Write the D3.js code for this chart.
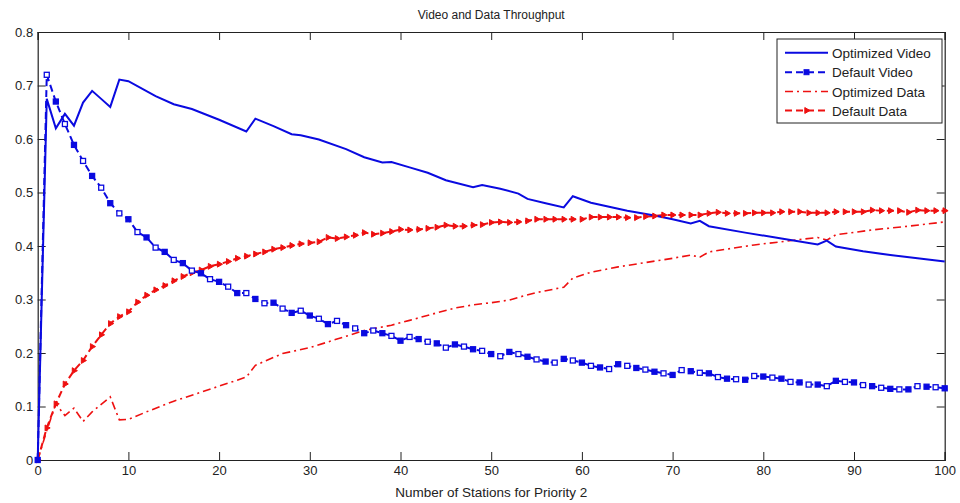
<!DOCTYPE html>
<html>
<head>
<meta charset="utf-8">
<script src="https://cdn.jsdelivr.net/npm/d3@7"></script>
<style>
  html, body { margin: 0; padding: 0; background: #fff; }
  svg { display: block; font-family: "Liberation Sans", Arial, sans-serif; }
</style>
</head>
<body>
<svg id="chart" width="960" height="503"></svg>
<script>
// ---------------- data ----------------
const stations = d3.range(0, 101); // x categories 0..100

const defaultVideo = [
  0, 0.72, 0.67, 0.628, 0.589, 0.559, 0.531, 0.509, 0.48, 0.461,
  0.45, 0.426, 0.416, 0.397, 0.389, 0.374, 0.368, 0.354, 0.349, 0.338,
  0.333, 0.324, 0.312, 0.312, 0.301, 0.293, 0.294, 0.283, 0.275, 0.279,
  0.27, 0.264, 0.254, 0.26, 0.252, 0.246, 0.237, 0.242, 0.237, 0.232,
  0.223, 0.23, 0.226, 0.221, 0.218, 0.21, 0.216, 0.212, 0.207, 0.204,
  0.198, 0.194, 0.202, 0.198, 0.193, 0.188, 0.184, 0.182, 0.189, 0.186,
  0.182, 0.176, 0.173, 0.17, 0.179, 0.176, 0.172, 0.169, 0.165, 0.162,
  0.159, 0.168, 0.166, 0.163, 0.162, 0.155, 0.152, 0.151, 0.15, 0.157,
  0.156, 0.154, 0.152, 0.146, 0.145, 0.141, 0.141, 0.138, 0.148, 0.146,
  0.145, 0.14, 0.138, 0.135, 0.133, 0.132, 0.132, 0.138, 0.137, 0.136,
  0.134
];

const defaultData = [
  0, 0.06, 0.105, 0.142, 0.167, 0.186, 0.212, 0.234, 0.255, 0.268,
  0.277, 0.295, 0.308, 0.318, 0.326, 0.335, 0.343, 0.35, 0.355, 0.362,
  0.366, 0.371, 0.377, 0.381, 0.385, 0.389, 0.394, 0.397, 0.401, 0.404,
  0.406, 0.408, 0.416, 0.414, 0.417, 0.42, 0.425, 0.422, 0.424, 0.427,
  0.431, 0.43, 0.431, 0.433, 0.435, 0.439, 0.437, 0.437, 0.439, 0.44,
  0.444, 0.445, 0.444, 0.445, 0.447, 0.45, 0.45, 0.45, 0.45, 0.45,
  0.45, 0.454, 0.454, 0.454, 0.454, 0.453, 0.453, 0.455, 0.456, 0.458,
  0.458, 0.458, 0.458, 0.458, 0.461, 0.463, 0.461, 0.461, 0.461, 0.462,
  0.462, 0.462, 0.464, 0.464, 0.464, 0.462, 0.462, 0.462, 0.464, 0.464,
  0.464, 0.464, 0.467, 0.466, 0.466, 0.466, 0.463, 0.467, 0.466, 0.466,
  0.466
];

const optVideoX = [0, 1, 2, 3, 4, 5, 6, 7, 8, 9, 10, 13, 15, 17, 20, 23, 24, 26, 28, 29, 31, 34, 36, 38, 39, 41, 43, 45, 48, 49, 51, 53, 54, 56, 58, 59, 61, 65, 68, 70, 72, 73, 74, 78, 82, 86, 87, 88, 91, 94, 97, 100];
const optVideo  = [0, 0.675, 0.62, 0.647, 0.625, 0.668, 0.69, 0.675, 0.66, 0.711, 0.708, 0.68, 0.665, 0.656, 0.636, 0.614, 0.638, 0.624, 0.609, 0.607, 0.599, 0.581, 0.566, 0.556, 0.557, 0.547, 0.537, 0.523, 0.51, 0.514, 0.507, 0.498, 0.488, 0.48, 0.472, 0.493, 0.481, 0.466, 0.457, 0.45, 0.442, 0.447, 0.437, 0.425, 0.414, 0.403, 0.41, 0.399, 0.39, 0.383, 0.377, 0.371];

const optDataX = [0, 1, 2, 3, 4, 5, 6, 7, 8, 9, 10, 12, 15, 17, 20, 23, 24, 27, 30, 33, 36, 39, 41, 44, 46, 48, 50, 52, 53, 55, 58, 59, 61, 64, 67, 70, 72, 73, 74, 79, 84, 86, 87, 88, 92, 96, 100];
const optData  = [0, 0.055, 0.105, 0.083, 0.097, 0.072, 0.09, 0.104, 0.118, 0.075, 0.076, 0.09, 0.11, 0.121, 0.138, 0.155, 0.177, 0.199, 0.21, 0.226, 0.242, 0.252, 0.261, 0.275, 0.284, 0.29, 0.294, 0.299, 0.304, 0.313, 0.323, 0.34, 0.351, 0.361, 0.369, 0.377, 0.383, 0.379, 0.389, 0.402, 0.412, 0.416, 0.411, 0.421, 0.43, 0.437, 0.445];

const xTicks = [0, 10, 20, 30, 40, 50, 60, 70, 80, 90, 100];
const yTicks = [0, 0.1, 0.2, 0.3, 0.4, 0.5, 0.6, 0.7, 0.8];
const xTickLabels = ["0", "10", "20", "30", "40", "50", "60", "70", "80", "90", "100"];
const yTickLabels = ["0", "0.1", "0.2", "0.3", "0.4", "0.5", "0.6", "0.7", "0.8"];
const legendLabels = ["Optimized Video", "Default Video", "Optimized Data", "Default Data"];

// ---------------- drawing ----------------
const BLUE = "#0a0ae0";
const RED = "#ee1010";
const svg = d3.select("#chart");
const pLeft = 37.7, pRight = 944.7, pTop = 32, pBottom = 460;
const x = d3.scaleLinear().domain([0, 100]).range([pLeft, pRight]);
const y = d3.scaleLinear().domain([0, 0.8]).range([pBottom, pTop]);

svg.append("rect").attr("width", 960).attr("height", 503).attr("fill", "#fff");

// axes (Matlab-style box with inward ticks)
const tickLen = 8;
const gB = svg.append("g").attr("transform", `translate(0,${pBottom})`)
  .call(d3.axisBottom(x).tickValues(xTicks).tickSize(-tickLen).tickPadding(6)
    .tickFormat((d, i) => xTickLabels[i]));
const gT = svg.append("g").attr("transform", `translate(0,${pTop})`)
  .call(d3.axisTop(x).tickValues(xTicks).tickSize(-tickLen).tickFormat(""));
const gL = svg.append("g").attr("transform", `translate(${pLeft},0)`)
  .call(d3.axisLeft(y).tickValues(yTicks).tickSize(-tickLen).tickPadding(4.5)
    .tickFormat((d, i) => yTickLabels[i]));
const gR = svg.append("g").attr("transform", `translate(${pRight},0)`)
  .call(d3.axisRight(y).tickValues(yTicks).tickSize(-tickLen).tickFormat(""));
[gB, gT, gL, gR].forEach(g => {
  g.select(".domain").attr("stroke", "#222").attr("stroke-width", 1.2);
  g.selectAll(".tick line").attr("stroke", "#222").attr("stroke-width", 1);
  g.selectAll(".tick text").attr("fill", "#222").attr("font-size", 13)
    .attr("font-family", "'Liberation Sans', Arial, sans-serif");
});

// lines
const lineXY = d3.line().x(d => x(d[0])).y(d => y(d[1]));
const zip = (xa, ya) => xa.map((v, i) => [v, ya[i]]);

const dvPts = zip(stations, defaultVideo);
const ddPts = zip(stations, defaultData);

svg.append("path").datum(zip(optDataX, optData)).attr("d", lineXY)
  .attr("fill", "none").attr("stroke", RED).attr("stroke-width", 1.6)
  .attr("stroke-dasharray", "8,4,2,4");

svg.append("path").datum(ddPts).attr("d", lineXY)
  .attr("fill", "none").attr("stroke", RED).attr("stroke-width", 2)
  .attr("stroke-dasharray", "7,4");

svg.append("path").datum(dvPts).attr("d", lineXY)
  .attr("fill", "none").attr("stroke", BLUE).attr("stroke-width", 2)
  .attr("stroke-dasharray", "7,4");

svg.append("path").datum(zip(optVideoX, optVideo)).attr("d", lineXY)
  .attr("fill", "none").attr("stroke", BLUE).attr("stroke-width", 2);

// markers
const tri = d3.symbol().type(d3.symbolTriangle).size(15);
svg.append("g").selectAll("path").data(ddPts).join("path")
  .attr("d", tri)
  .attr("transform", d => `translate(${x(d[0])},${y(d[1])}) rotate(90)`)
  .attr("fill", RED).attr("stroke", RED).attr("stroke-width", 1);

svg.append("g").selectAll("rect").data(dvPts).join("rect")
  .attr("x", d => x(d[0]) - 2.5).attr("y", d => y(d[1]) - 2.5)
  .attr("width", 5).attr("height", 5)
  .attr("fill", (d, i) => i % 2 === 0 ? BLUE : "#fff")
  .attr("stroke", BLUE).attr("stroke-width", 1.3);

// title & axis label
svg.append("text").attr("x", (pLeft + pRight) / 2).attr("y", 19)
  .attr("text-anchor", "middle").attr("font-size", 12).attr("fill", "#222")
  .text("Video and Data Throughput");
svg.append("text").attr("x", (pLeft + pRight) / 2).attr("y", 497)
  .attr("text-anchor", "middle").attr("font-size", 13.5).attr("fill", "#222")
  .text("Number of Stations for Priority 2");

// legend
const lg = svg.append("g");
lg.append("rect").attr("x", 777).attr("y", 39).attr("width", 165).attr("height", 84)
  .attr("fill", "#fff").attr("stroke", "#222").attr("stroke-width", 1);
const rowY = [52.7, 72.2, 91.5, 110.5];
const styles = [
  { c: BLUE, dash: null, w: 2 },
  { c: BLUE, dash: "7,4", w: 2, m: "sq" },
  { c: RED, dash: "8,4,2,4", w: 1.6 },
  { c: RED, dash: "7,4", w: 2, m: "tri" }
];
legendLabels.forEach((lab, i) => {
  const s = styles[i], yy = rowY[i];
  lg.append("line").attr("x1", 785).attr("x2", 828).attr("y1", yy).attr("y2", yy)
    .attr("stroke", s.c).attr("stroke-width", s.w)
    .attr("stroke-dasharray", s.dash);
  if (s.m === "sq") {
    lg.append("rect").attr("x", 806.5 - 2.5).attr("y", yy - 2.5).attr("width", 5).attr("height", 5)
      .attr("fill", s.c).attr("stroke", s.c);
  } else if (s.m === "tri") {
    lg.append("path").attr("d", tri).attr("transform", `translate(806.5,${yy}) rotate(90)`)
      .attr("fill", s.c).attr("stroke", s.c);
  }
  lg.append("text").attr("x", 832).attr("y", yy + 5).attr("font-size", 13.5).attr("fill", "#222")
    .text(lab);
});
</script>
</body>
</html>
